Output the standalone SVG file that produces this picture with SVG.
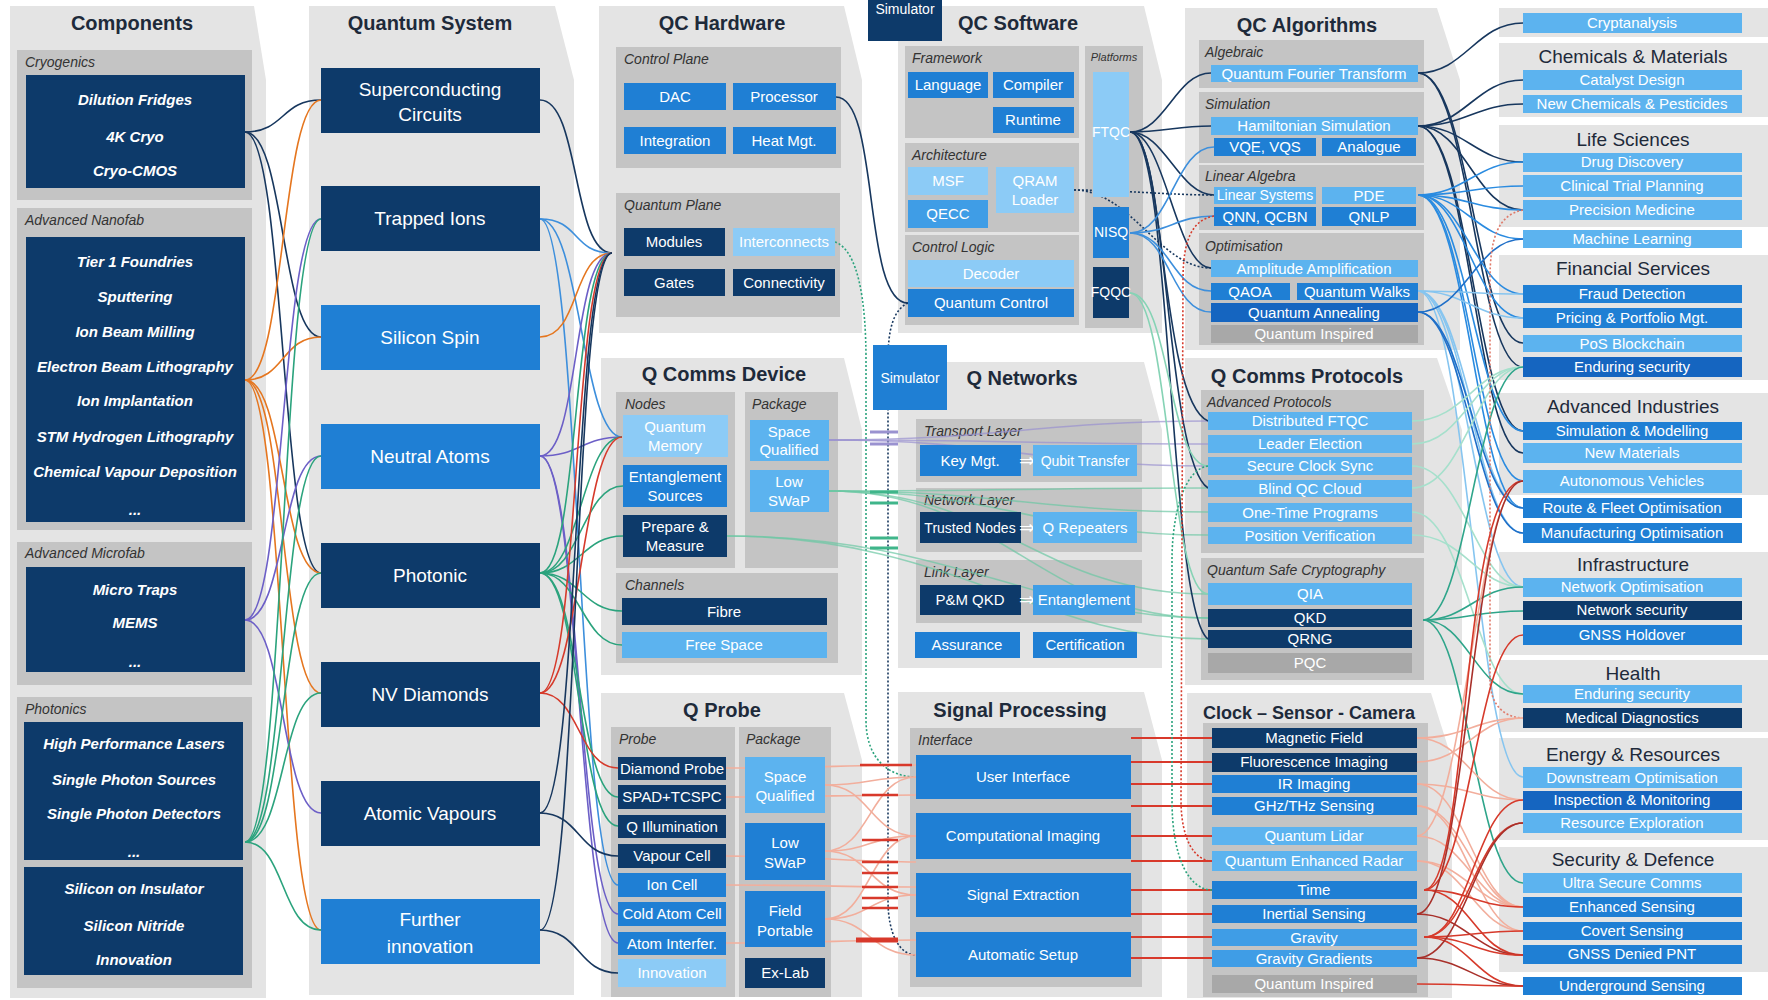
<svg xmlns="http://www.w3.org/2000/svg" width="1768" height="1000" viewBox="0 0 1768 1000">
<style>
text{font-family:"Liberation Sans Narrow","Liberation Sans",Arial,sans-serif}
.pn{fill:#e4e4e4}
.sec{fill:#c4c4c4}
.dk{fill:#0d3a6a}
.md{fill:#1f7fd4}
.m2{fill:#1565c0}
.lt{fill:#5cb3ef}
.xl{fill:#8ccbf6}
.ml{fill:#3f9de6}
.gr{fill:#a8a8a8}
.h{font-size:20px;font-weight:bold;fill:#1e2a3a;text-anchor:middle}
.g{font-size:19px;fill:#1e2a3a;text-anchor:middle}
.s{font-size:14px;font-style:italic;fill:#333}
.w{font-size:15px;fill:#fff;text-anchor:middle}
.ws{font-size:14px;fill:#fff;text-anchor:middle}
.ci{font-size:15px;font-style:italic;font-weight:bold;fill:#fff;text-anchor:middle}
.qs{font-size:19px;fill:#fff;text-anchor:middle}
.ar{font-size:19px;fill:#fff;text-anchor:middle;font-family:"DejaVu Sans",sans-serif}
.c{fill:none;stroke-width:1.6}
.k{stroke:#17375e}
.o{stroke:#e5761f}
.p{stroke:#6c5fc7}
.gn{stroke:#2ba37d}
.b{stroke:#3d8fdc}
.r{stroke:#d63a2b}
.lb{stroke:#86c5f0}
.tl{stroke:#2ea58a}
.ft{stroke:#a6e0cc}
.sa{stroke:#f2ae9c}
.dr{stroke:#a8302a}
.dot{stroke-dasharray:2 2}
</style>

<g id="panels">
<path class="pn" d="M10,6 H254 L266,80 V998 H10 Z"/>
<path class="pn" d="M309,6 H555 L574,80 V995 H309 Z"/>
<path class="pn" d="M599,6 H844 L862,80 V333 H599 Z"/>
<path class="pn" d="M898,6 H1144 L1162,80 V333 H898 Z"/>
<path class="pn" d="M1185,8 H1437 L1460,80 V350 H1185 Z"/>
<path class="pn" d="M601,358 H844 L862,430 V675 H601 Z"/>
<path class="pn" d="M898,362 H1144 L1162,430 V668 H898 Z"/>
<path class="pn" d="M1185,358 H1437 L1462,430 V685 H1185 Z"/>
<path class="pn" d="M601,693 H844 L862,760 V997 H601 Z"/>
<path class="pn" d="M898,692 H1144 L1162,760 V997 H898 Z"/>
<path class="pn" d="M1187,693 H1431 L1452,760 V998 H1187 Z"/>
<rect class="pn" x="1499" y="8" width="269" height="29"/>
<rect class="pn" x="1499" y="43" width="269" height="74"/>
<rect class="pn" x="1499" y="125" width="269" height="102"/>
<rect class="pn" x="1499" y="255" width="269" height="125"/>
<rect class="pn" x="1499" y="393" width="269" height="102"/>
<rect class="pn" x="1499" y="552" width="269" height="103"/>
<rect class="pn" x="1499" y="660" width="269" height="72"/>
<rect class="pn" x="1499" y="738" width="269" height="102"/>
<rect class="pn" x="1499" y="847" width="269" height="125"/>
<text class="h" x="132" y="30">Components</text>
<text class="h" x="430" y="30">Quantum System</text>
<text class="h" x="722" y="30">QC Hardware</text>
<text class="h" x="1018" y="30">QC Software</text>
<text class="h" x="1307" y="32">QC Algorithms</text>
<text class="h" x="724" y="381">Q Comms Device</text>
<text class="h" x="1022" y="385">Q Networks</text>
<text class="h" x="1307" y="383">Q Comms Protocols</text>
<text class="h" x="722" y="717">Q Probe</text>
<text class="h" x="1020" y="717">Signal Processing</text>
<text class="h" x="1309" y="719" style="font-size:18px">Clock – Sensor - Camera</text>
<text class="g" x="1633" y="63">Chemicals &amp; Materials</text>
<text class="g" x="1633" y="146">Life Sciences</text>
<text class="g" x="1633" y="275">Financial Services</text>
<text class="g" x="1633" y="413">Advanced Industries</text>
<text class="g" x="1633" y="571">Infrastructure</text>
<text class="g" x="1633" y="680">Health</text>
<text class="g" x="1633" y="761">Energy &amp; Resources</text>
<text class="g" x="1633" y="866">Security &amp; Defence</text>
<rect class="sec" x="17" y="50" width="235" height="150"/><text class="s" x="25" y="67">Cryogenics</text>
<rect class="sec" x="17" y="208" width="235" height="322"/><text class="s" x="25" y="225">Advanced Nanofab</text>
<rect class="sec" x="17" y="542" width="235" height="143"/><text class="s" x="25" y="558">Advanced Microfab</text>
<rect class="sec" x="17" y="697" width="235" height="291"/><text class="s" x="25" y="714">Photonics</text>
<rect class="sec" x="616" y="47" width="225" height="121"/><text class="s" x="624" y="64">Control Plane</text>
<rect class="sec" x="616" y="193" width="224" height="124"/><text class="s" x="624" y="210">Quantum Plane</text>
<rect class="sec" x="905" y="46" width="174" height="92"/><text class="s" x="912" y="63">Framework</text>
<rect class="sec" x="905" y="143" width="174" height="89"/><text class="s" x="912" y="160">Architecture</text>
<rect class="sec" x="905" y="235" width="174" height="90"/><text class="s" x="912" y="252">Control Logic</text>
<rect class="sec" x="1085" y="46" width="58" height="282"/><text class="s" x="1114" y="61" style="font-size:11px;text-anchor:middle">Platforms</text>
<rect class="sec" x="1199" y="40" width="225" height="48"/><text class="s" x="1205" y="57">Algebraic</text>
<rect class="sec" x="1199" y="92" width="225" height="71"/><text class="s" x="1205" y="109">Simulation</text>
<rect class="sec" x="1199" y="165" width="225" height="65"/><text class="s" x="1205" y="181">Linear Algebra</text>
<rect class="sec" x="1199" y="233" width="225" height="112"/><text class="s" x="1205" y="251">Optimisation</text>
<rect class="sec" x="616" y="392" width="119" height="176"/><text class="s" x="625" y="409">Nodes</text>
<rect class="sec" x="745" y="392" width="93" height="176"/><text class="s" x="752" y="409">Package</text>
<rect class="sec" x="616" y="573" width="222" height="90"/><text class="s" x="625" y="590">Channels</text>
<rect class="sec" x="916" y="419" width="226" height="63"/><text class="s" x="924" y="436">Transport Layer</text>
<rect class="sec" x="916" y="488" width="226" height="64"/><text class="s" x="924" y="505">Network Layer</text>
<rect class="sec" x="916" y="560" width="226" height="63"/><text class="s" x="924" y="577">Link Layer</text>
<rect class="sec" x="1201" y="390" width="223" height="163"/><text class="s" x="1207" y="407">Advanced Protocols</text>
<rect class="sec" x="1201" y="558" width="223" height="122"/><text class="s" x="1207" y="575">Quantum Safe Cryptography</text>
<rect class="sec" x="611" y="727" width="124" height="270"/><text class="s" x="619" y="744">Probe</text>
<rect class="sec" x="739" y="727" width="92" height="270"/><text class="s" x="746" y="744">Package</text>
<rect class="sec" x="910" y="728" width="232" height="259"/><text class="s" x="918" y="745">Interface</text>
<rect class="sec" x="1203" y="723" width="225" height="274"/>
</g>

<g id="connectors">
<path class="c k" d="M245,132 C285,132 281,100 321,100"/>
<path class="c k" d="M245,132 C285,132 281,337 321,337"/>
<path class="c k" d="M245,132 C285,132 281,573 321,573"/>
<path class="c o" d="M245,380 C285,380 281,100 321,100"/>
<path class="c o" d="M245,380 C285,380 281,337 321,337"/>
<path class="c o" d="M245,380 C285,380 281,573 321,573"/>
<path class="c o" d="M245,380 C285,380 281,693 321,693"/>
<path class="c o" d="M245,380 C285,380 281,930 321,930"/>
<path class="c p" d="M245,620 C285,620 281,219 321,219"/>
<path class="c p" d="M245,620 C285,620 281,456 321,456"/>
<path class="c p" d="M245,620 C285,620 281,813 321,813"/>
<path class="c gn" d="M245,842 C285,842 281,219 321,219"/>
<path class="c gn" d="M245,842 C285,842 281,456 321,456"/>
<path class="c gn" d="M245,842 C285,842 281,573 321,573"/>
<path class="c gn" d="M245,842 C285,842 281,693 321,693"/>
<path class="c gn" d="M245,842 C285,842 281,930 321,930"/>

<path class="c k" d="M540,100 C580,100 572,253 612,253"/>
<path class="c b" d="M540,219 C580,219 572,253 612,253"/>
<path class="c b" d="M540,219 C580,219 582,437 622,437"/>
<path class="c b" d="M540,219 C580,219 578,885 618,885"/>
<path class="c o" d="M540,337 C580,337 572,253 612,253"/>
<path class="c p" d="M540,456 C580,456 572,253 612,253"/>
<path class="c p" d="M540,456 C580,456 582,437 622,437"/>
<path class="c p" d="M540,456 C580,456 578,914 618,914"/>
<path class="c p" d="M540,456 C580,456 578,943 618,943"/>
<path class="c gn" d="M540,573 C580,573 572,253 612,253"/>
<path class="c gn" d="M540,573 C580,573 582,437 622,437"/>
<path class="c gn" d="M540,573 C580,573 583,486 623,486"/>
<path class="c gn" d="M540,573 C580,573 583,536 623,536"/>
<path class="c gn" d="M540,573 C580,573 582,611 622,611"/>
<path class="c gn" d="M540,573 C580,573 582,645 622,645"/>
<path class="c gn" d="M540,573 C580,573 578,797 618,797"/>
<path class="c gn" d="M540,573 C580,573 578,826 618,826"/>
<path class="c r" d="M540,693 C580,693 572,253 612,253"/>
<path class="c r" d="M540,693 C580,693 582,437 622,437"/>
<path class="c r" d="M540,693 C580,693 578,768 618,768"/>
<path class="c k" d="M540,813 C580,813 572,253 612,253"/>
<path class="c k" d="M540,813 C580,813 578,856 618,856"/>
<path class="c k" d="M540,930 C580,930 572,253 612,253"/>
<path class="c k" d="M540,930 C580,930 578,973 618,973"/>

<path class="c k" d="M836,97 C880,97 862,303 908,303"/>
<path class="c k dot" d="M908,303 C893,310 888,330 888,360 L888,900 C888,935 900,955 916,955"/>
<path class="c gn dot" d="M835,242 C858,250 866,300 866,360 L866,720 C866,760 890,777 916,777"/>

<path class="c" stroke="#9a92d0" opacity="0.7" d="M829,440 C1000,440 1040,421 1208,421"/>
<path class="c" stroke="#9a92d0" opacity="0.7" d="M829,440 C1000,440 1040,444 1208,444"/>
<path class="c" stroke="#9a92d0" opacity="0.7" d="M829,440 C1000,440 1040,466 1208,466"/>
<path class="c" stroke="#6cc7a4" opacity="0.7" d="M829,491 C1000,491 1040,488 1208,488"/>
<path class="c" stroke="#6cc7a4" opacity="0.7" d="M829,491 C1000,491 1040,512 1208,512"/>
<path class="c" stroke="#6cc7a4" opacity="0.7" d="M829,491 C1000,491 1040,535 1208,535"/>
<path class="c" stroke="#6cc7a4" opacity="0.7" d="M829,491 C1000,491 1040,594 1208,594"/>
<path class="c" stroke="#6cc7a4" opacity="0.7" d="M829,491 C1000,491 1040,618 1208,618"/>
<path class="c" stroke="#6cc7a4" opacity="0.7" d="M727,536 C950,536 1040,639 1208,639"/>
<path class="c" stroke="#6cc7a4" opacity="0.7" d="M727,536 C950,536 1040,618 1208,618"/>
<path stroke="#9a92d0" stroke-width="3" d="M870,432 H898 M870,444 H898"/>
<path stroke="#3fb58a" stroke-width="3" d="M870,492 H898 M870,503 H898 M870,538 H898 M870,548 H898"/>

<path class="c sa" d="M825,785 C870,785 870,777 916,777"/>
<path class="c sa" d="M825,785 C870,785 870,836 916,836"/>
<path class="c sa" d="M825,851 C870,851 870,777 916,777"/>
<path class="c sa" d="M825,851 C870,851 870,836 916,836"/>
<path class="c sa" d="M825,851 C870,851 870,895 916,895"/>
<path class="c sa" d="M825,919 C870,919 870,836 916,836"/>
<path class="c sa" d="M825,919 C870,919 870,895 916,895"/>
<path class="c sa" d="M825,919 C870,919 870,955 916,955"/>
<path class="c sa" d="M726,768 C800,768 860,765 916,765"/>
<path class="c sa" d="M726,797 C800,797 860,795 916,795"/>
<path class="c sa" d="M726,856 C800,856 860,862 916,862"/>
<path class="c sa" d="M726,885 C800,885 860,887 916,887"/>
<path class="c sa" d="M726,943 C800,943 860,940 916,940"/>
<path stroke="#d8392b" stroke-width="2.5" d="M860,765 H912 M862,795 H898 M862,840 H898 M862,862 H898 M862,873 H898 M862,887 H898 M862,898 H898 M862,908 H898"/>
<path stroke="#d8392b" stroke-width="5" d="M856,940 H898"/>
<path stroke="#d8392b" stroke-width="2.2" d="M1131,738 H1212 M1131,762 H1212 M1131,784 H1212 M1131,806 H1212 M1131,836 H1212 M1131,861 H1212 M1131,890 H1212 M1131,914 H1212 M1131,937 H1212 M1131,958 H1212"/>

<path class="c k" d="M1130,132 C1165,132 1176,73 1211,73"/>
<path class="c k" d="M1130,132 C1165,132 1176,126 1211,126"/>
<path class="c k" d="M1130,132 C1165,132 1179,195 1214,195"/>
<path class="c k" d="M1130,132 C1165,132 1176,268 1211,268"/>
<path class="c k" d="M1130,132 C1165,132 1160,400 1208,421"/>
<path class="c k" d="M1130,132 C1168,132 1165,460 1208,488"/>
<path class="c k" d="M1130,132 C1172,132 1168,610 1208,639"/>
<path class="c k dot" d="M1074,190 C1120,190 1170,195 1214,195"/>
<path class="c k dot" d="M1074,190 C1130,190 1160,268 1211,268"/>
<path class="c b" d="M1130,233 C1170,233 1175,147 1214,147"/>
<path class="c b" d="M1130,233 C1170,233 1175,216 1214,216"/>
<path class="c b" d="M1130,233 C1170,233 1171,291 1211,291"/>
<path class="c b" d="M1130,233 C1170,233 1171,312 1211,312"/>
<path class="c" stroke="#86d3b5" d="M1130,293 C1170,293 1168,466 1208,466"/>
<path class="c" stroke="#86d3b5" d="M1130,293 C1170,293 1168,594 1208,594"/>
<path class="c gn dot" d="M1208,466 C1182,470 1172,520 1172,560 L1172,800 C1172,860 1190,890 1212,890"/>
<path class="c r dot" d="M1214,216 C1192,220 1183,240 1183,280 L1181,800 C1181,840 1195,861 1212,861"/>

<path class="c k" d="M1418,73 C1465,73 1476,23 1523,23"/>
<path class="c k" d="M1418,73 C1470,73 1476,343 1523,343"/>
<path class="c k" d="M1418,73 C1470,73 1476,367 1523,367"/>
<path class="c k" d="M1418,126 C1465,126 1476,80 1523,80"/>
<path class="c k" d="M1418,126 C1465,126 1476,104 1523,104"/>
<path class="c k" d="M1418,126 C1465,126 1476,162 1523,162"/>
<path class="c k" d="M1418,126 C1465,126 1476,210 1523,210"/>
<path class="c k" d="M1418,126 C1470,126 1476,431 1523,431"/>
<path class="c k" d="M1418,126 C1470,126 1476,453 1523,453"/>
<path class="c" stroke="#2a8be0" d="M1418,195 C1465,195 1476,162 1523,162"/>
<path class="c" stroke="#2a8be0" d="M1418,195 C1465,195 1476,186 1523,186"/>
<path class="c" stroke="#2a8be0" d="M1418,195 C1465,195 1476,210 1523,210"/>
<path class="c" stroke="#2a8be0" d="M1418,195 C1465,195 1476,239 1523,239"/>
<path class="c" stroke="#2a8be0" d="M1418,195 C1465,195 1476,294 1523,294"/>
<path class="c" stroke="#2a8be0" d="M1418,195 C1465,195 1476,318 1523,318"/>
<path class="c" stroke="#2a8be0" d="M1418,195 C1468,195 1476,431 1523,431"/>
<path class="c" stroke="#2a8be0" d="M1418,195 C1468,195 1476,481 1523,481"/>
<path class="c" stroke="#2a8be0" d="M1418,195 C1468,195 1476,508 1523,508"/>
<path class="c lb" d="M1418,291 C1465,291 1476,294 1523,294"/>
<path class="c lb" d="M1418,291 C1465,291 1476,318 1523,318"/>
<path class="c lb" d="M1418,291 C1465,291 1476,508 1523,508"/>
<path class="c lb" d="M1418,291 C1465,291 1476,533 1523,533"/>
<path class="c lb" d="M1418,291 C1465,291 1476,587 1523,587"/>
<path class="c lb" d="M1418,291 C1468,291 1476,777 1523,777"/>
<path class="c" stroke="#1f6fc8" d="M1418,312 C1465,312 1476,239 1523,239"/>
<path class="c" stroke="#1f6fc8" d="M1418,312 C1465,312 1476,508 1523,508"/>
<path class="c" stroke="#1f6fc8" d="M1418,312 C1465,312 1476,533 1523,533"/>
<path class="c ft" d="M1412,421 C1465,421 1476,367 1523,367"/>
<path class="c ft" d="M1412,444 C1465,444 1476,367 1523,367"/>
<path class="c ft" d="M1412,466 C1465,466 1476,587 1523,587"/>
<path class="c ft" d="M1412,488 C1465,488 1476,367 1523,367"/>
<path class="c ft" d="M1412,512 C1465,512 1476,694 1523,694"/>
<path class="c ft" d="M1412,535 C1465,535 1476,587 1523,587"/>
<path class="c tl" d="M1423,620 C1468,620 1476,367 1523,367"/>
<path class="c tl" d="M1423,620 C1468,620 1476,587 1523,587"/>
<path class="c tl" d="M1423,620 C1468,620 1476,611 1523,611"/>
<path class="c tl" d="M1423,620 C1468,620 1476,694 1523,694"/>
<path class="c tl" d="M1423,620 C1468,620 1476,883 1523,883"/>
<path class="c dot" stroke="#e07a6a" d="M1523,210 C1497,215 1490,240 1490,280 L1490,680 C1490,705 1505,718 1523,718"/>
<path class="c sa" d="M1417,738 C1465,738 1476,718 1523,718"/>
<path class="c sa" d="M1417,738 C1465,738 1476,800 1523,800"/>
<path class="c sa" d="M1417,762 C1465,762 1476,718 1523,718"/>
<path class="c sa" d="M1417,784 C1465,784 1476,800 1523,800"/>
<path class="c sa" d="M1417,784 C1465,784 1476,907 1523,907"/>
<path class="c sa" d="M1417,806 C1465,806 1476,907 1523,907"/>
<path class="c sa" d="M1417,806 C1465,806 1476,931 1523,931"/>
<path class="c sa" d="M1417,836 C1465,836 1476,481 1523,481"/>
<path class="c sa" d="M1417,836 C1465,836 1476,907 1523,907"/>
<path class="c sa" d="M1417,861 C1465,861 1476,907 1523,907"/>
<path class="c sa" d="M1417,861 C1465,861 1476,931 1523,931"/>
<path class="c r" stroke-width="2.2" d="M1424,890 C1470,890 1460,481 1523,481"/>
<path class="c r" d="M1424,890 C1470,890 1476,635 1523,635"/>
<path class="c r" d="M1424,890 C1470,890 1476,907 1523,907"/>
<path class="c r" d="M1424,890 C1470,890 1476,955 1523,955"/>
<path class="c dr" d="M1417,914 C1465,914 1476,955 1523,955"/>
<path class="c dr" d="M1417,914 C1468,914 1470,481 1523,481"/>
<path class="c r" d="M1424,937 C1470,937 1476,800 1523,800"/>
<path class="c r" d="M1424,937 C1470,937 1476,823 1523,823"/>
<path class="c r" d="M1424,937 C1470,937 1476,931 1523,931"/>
<path class="c r" d="M1424,937 C1470,937 1476,955 1523,955"/>
<path class="c r" d="M1424,937 C1470,937 1476,986 1523,986"/>
<path class="c dr" d="M1417,958 C1465,958 1476,986 1523,986"/>
<path class="c dr" d="M1417,958 C1465,958 1476,823 1523,823"/>
<path class="c r" d="M1417,984 C1465,984 1476,986 1523,986"/>
</g>

<g id="nodes">
<g id="cryogenics"><rect class="dk" x="26" y="75" width="219" height="113"/>
<text class="ci" x="135" y="105">Dilution Fridges</text><text class="ci" x="135" y="142">4K Cryo</text><text class="ci" x="135" y="176">Cryo-CMOS</text></g>
<g id="nanofab"><rect class="dk" x="26" y="237" width="219" height="285"/>
<text class="ci" x="135" y="267">Tier 1 Foundries</text><text class="ci" x="135" y="302">Sputtering</text><text class="ci" x="135" y="337">Ion Beam Milling</text><text class="ci" x="135" y="372">Electron Beam Lithography</text><text class="ci" x="135" y="406">Ion Implantation</text><text class="ci" x="135" y="442">STM Hydrogen Lithography</text><text class="ci" x="135" y="477">Chemical Vapour Deposition</text><text class="ci" x="135" y="515">...</text></g>
<g id="microfab"><rect class="dk" x="26" y="567" width="219" height="105"/>
<text class="ci" x="135" y="595">Micro Traps</text><text class="ci" x="135" y="628">MEMS</text><text class="ci" x="135" y="667">...</text></g>
<g id="photonics1"><rect class="dk" x="24" y="722" width="219" height="138"/>
<text class="ci" x="134" y="749">High Performance Lasers</text><text class="ci" x="134" y="785">Single Photon Sources</text><text class="ci" x="134" y="819">Single Photon Detectors</text><text class="ci" x="134" y="857">...</text></g>
<g id="photonics2"><rect class="dk" x="24" y="867" width="219" height="108"/>
<text class="ci" x="134" y="894">Silicon on Insulator</text><text class="ci" x="134" y="931">Silicon Nitride</text><text class="ci" x="134" y="965">Innovation</text></g>

<g id="superconducting"><rect class="dk" x="321" y="68" width="219" height="65"/><text class="qs" x="430" y="96">Superconducting</text><text class="qs" x="430" y="121">Circuits</text></g>
<g id="trapped-ions"><rect class="dk" x="321" y="186" width="219" height="65"/><text class="qs" x="430" y="225">Trapped Ions</text></g>
<g id="silicon-spin"><rect class="md" x="321" y="305" width="219" height="65"/><text class="qs" x="430" y="344">Silicon Spin</text></g>
<g id="neutral-atoms"><rect class="md" x="321" y="424" width="219" height="65"/><text class="qs" x="430" y="463">Neutral Atoms</text></g>
<g id="photonic"><rect class="dk" x="321" y="543" width="219" height="65"/><text class="qs" x="430" y="582">Photonic</text></g>
<g id="nv-diamonds"><rect class="dk" x="321" y="662" width="219" height="65"/><text class="qs" x="430" y="701">NV Diamonds</text></g>
<g id="atomic-vapours"><rect class="dk" x="321" y="781" width="219" height="65"/><text class="qs" x="430" y="820">Atomic Vapours</text></g>
<g id="further-innovation"><rect class="md" x="321" y="899" width="219" height="65"/><text class="qs" x="430" y="926">Further</text><text class="qs" x="430" y="953">innovation</text></g>

<g id="dac"><rect class="md" x="624" y="83" width="102" height="27"/><text class="w" x="675" y="102">DAC</text></g>
<g id="processor"><rect class="md" x="733" y="83" width="103" height="27"/><text class="w" x="784" y="102">Processor</text></g>
<g id="integration"><rect class="md" x="624" y="127" width="102" height="27"/><text class="w" x="675" y="146">Integration</text></g>
<g id="heat-mgt"><rect class="md" x="733" y="127" width="103" height="27"/><text class="w" x="784" y="146">Heat Mgt.</text></g>
<g id="modules"><rect class="dk" x="624" y="228" width="101" height="28"/><text class="w" x="674" y="247">Modules</text></g>
<g id="interconnects"><rect class="xl" x="733" y="228" width="102" height="28"/><text class="w" x="784" y="247">Interconnects</text></g>
<g id="gates"><rect class="dk" x="624" y="269" width="101" height="27"/><text class="w" x="674" y="288">Gates</text></g>
<g id="connectivity"><rect class="dk" x="733" y="269" width="102" height="27"/><text class="w" x="784" y="288">Connectivity</text></g>

<g id="simulator-top"><rect class="dk" x="868" y="0" width="74" height="41"/><text class="ws" x="905" y="14">Simulator</text></g>
<g id="language"><rect class="md" x="908" y="72" width="80" height="26"/><text class="w" x="948" y="90">Language</text></g>
<g id="compiler"><rect class="md" x="993" y="72" width="81" height="26"/><text class="w" x="1033" y="90">Compiler</text></g>
<g id="runtime"><rect class="md" x="993" y="107" width="81" height="26"/><text class="w" x="1033" y="125">Runtime</text></g>
<g id="msf"><rect class="xl" x="908" y="167" width="80" height="28"/><text class="w" x="948" y="186">MSF</text></g>
<g id="qecc"><rect class="ml" x="908" y="200" width="80" height="28"/><text class="w" x="948" y="219">QECC</text></g>
<g id="qram"><rect class="xl" x="996" y="167" width="78" height="46"/><text class="w" x="1035" y="186">QRAM</text><text class="w" x="1035" y="205">Loader</text></g>
<g id="decoder"><rect class="xl" x="908" y="260" width="166" height="27"/><text class="w" x="991" y="279">Decoder</text></g>
<g id="quantum-control"><rect class="md" x="908" y="289" width="166" height="28"/><text class="w" x="991" y="308">Quantum Control</text></g>
<g id="ftqc"><rect class="xl" x="1093" y="72" width="36" height="125"/><text class="ws" x="1111" y="137">FTQC</text></g>
<g id="nisq"><rect class="md" x="1093" y="207" width="36" height="51"/><text class="ws" x="1111" y="237">NISQ</text></g>
<g id="fqqc"><rect class="dk" x="1093" y="267" width="36" height="51"/><text class="ws" x="1111" y="297">FQQC</text></g>

<g id="qft"><rect class="lt" x="1211" y="65" width="207" height="17"/><text class="w" x="1314" y="79">Quantum Fourier Transform</text></g>
<g id="hamiltonian"><rect class="lt" x="1211" y="117" width="207" height="18"/><text class="w" x="1314" y="131">Hamiltonian Simulation</text></g>
<g id="vqe"><rect class="md" x="1214" y="138" width="102" height="18"/><text class="w" x="1265" y="152">VQE, VQS</text></g>
<g id="analogue"><rect class="md" x="1322" y="138" width="94" height="18"/><text class="w" x="1369" y="152">Analogue</text></g>
<g id="linear-systems"><rect class="lt" x="1214" y="187" width="102" height="17"/><text class="ws" x="1265" y="200">Linear Systems</text></g>
<g id="pde"><rect class="lt" x="1322" y="187" width="94" height="17"/><text class="w" x="1369" y="201">PDE</text></g>
<g id="qnn"><rect class="md" x="1214" y="207" width="102" height="19"/><text class="w" x="1265" y="222">QNN, QCBN</text></g>
<g id="qnlp"><rect class="md" x="1322" y="207" width="94" height="19"/><text class="w" x="1369" y="222">QNLP</text></g>
<g id="amplitude"><rect class="lt" x="1211" y="260" width="207" height="17"/><text class="w" x="1314" y="274">Amplitude Amplification</text></g>
<g id="qaoa"><rect class="md" x="1211" y="283" width="79" height="17"/><text class="w" x="1250" y="297">QAOA</text></g>
<g id="quantum-walks"><rect class="md" x="1297" y="283" width="121" height="17"/><text class="w" x="1357" y="297">Quantum Walks</text></g>
<g id="quantum-annealing"><rect class="m2" x="1211" y="303" width="207" height="19"/><text class="w" x="1314" y="318">Quantum Annealing</text></g>
<g id="quantum-inspired-alg"><rect class="gr" x="1211" y="325" width="207" height="18"/><text class="w" x="1314" y="339">Quantum Inspired</text></g>

<g id="quantum-memory"><rect class="xl" x="623" y="415" width="105" height="42"/><text class="w" x="675" y="432">Quantum</text><text class="w" x="675" y="451">Memory</text></g>
<g id="entanglement-sources"><rect class="md" x="623" y="465" width="104" height="42"/><text class="w" x="675" y="482">Entanglement</text><text class="w" x="675" y="501">Sources</text></g>
<g id="prepare-measure"><rect class="dk" x="623" y="515" width="104" height="42"/><text class="w" x="675" y="532">Prepare &amp;</text><text class="w" x="675" y="551">Measure</text></g>
<g id="space-qualified-qc"><rect class="lt" x="750" y="420" width="79" height="41"/><text class="w" x="789" y="437">Space</text><text class="w" x="789" y="455">Qualified</text></g>
<g id="low-swap-qc"><rect class="lt" x="750" y="470" width="79" height="42"/><text class="w" x="789" y="487">Low</text><text class="w" x="789" y="506">SWaP</text></g>
<g id="fibre"><rect class="dk" x="622" y="598" width="205" height="27"/><text class="w" x="724" y="617">Fibre</text></g>
<g id="free-space"><rect class="lt" x="622" y="632" width="205" height="26"/><text class="w" x="724" y="650">Free Space</text></g>

<g id="simulator-net"><rect class="md" x="873" y="345" width="74" height="65"/><text class="ws" x="910" y="383">Simulator</text></g>
<g id="key-mgt"><rect class="md" x="920" y="445" width="101" height="31"/><text class="w" x="970" y="466">Key Mgt.</text></g>
<text class="ar" x="1027" y="467">⇒</text>
<g id="qubit-transfer"><rect class="lt" x="1033" y="445" width="104" height="31"/><text class="ws" x="1085" y="466">Qubit Transfer</text></g>
<g id="trusted-nodes"><rect class="dk" x="920" y="512" width="101" height="31"/><text class="ws" x="970" y="533">Trusted Nodes</text></g>
<text class="ar" x="1027" y="534">⇒</text>
<g id="q-repeaters"><rect class="lt" x="1033" y="512" width="104" height="31"/><text class="w" x="1085" y="533">Q Repeaters</text></g>
<g id="pm-qkd"><rect class="dk" x="920" y="585" width="101" height="30"/><text class="w" x="970" y="605">P&amp;M QKD</text></g>
<text class="ar" x="1027" y="606">⇒</text>
<g id="entanglement"><rect class="ml" x="1033" y="585" width="102" height="30"/><text class="w" x="1084" y="605">Entanglement</text></g>
<g id="assurance"><rect class="md" x="915" y="632" width="105" height="26"/><text class="w" x="967" y="650">Assurance</text></g>
<g id="certification"><rect class="md" x="1033" y="632" width="104" height="26"/><text class="w" x="1085" y="650">Certification</text></g>

<g id="distributed-ftqc"><rect class="lt" x="1208" y="412" width="204" height="18"/><text class="w" x="1310" y="426">Distributed FTQC</text></g>
<g id="leader-election"><rect class="lt" x="1208" y="435" width="204" height="18"/><text class="w" x="1310" y="449">Leader Election</text></g>
<g id="secure-clock-sync"><rect class="lt" x="1208" y="457" width="204" height="18"/><text class="w" x="1310" y="471">Secure Clock Sync</text></g>
<g id="blind-qc-cloud"><rect class="lt" x="1208" y="480" width="204" height="17"/><text class="w" x="1310" y="494">Blind QC Cloud</text></g>
<g id="one-time-programs"><rect class="lt" x="1208" y="503" width="204" height="19"/><text class="w" x="1310" y="518">One-Time Programs</text></g>
<g id="position-verification"><rect class="lt" x="1208" y="527" width="204" height="17"/><text class="w" x="1310" y="541">Position Verification</text></g>
<g id="qia"><rect class="lt" x="1208" y="583" width="204" height="22"/><text class="w" x="1310" y="599">QIA</text></g>
<g id="qkd"><rect class="dk" x="1208" y="609" width="204" height="18"/><text class="w" x="1310" y="623">QKD</text></g>
<g id="qrng"><rect class="dk" x="1208" y="630" width="204" height="18"/><text class="w" x="1310" y="644">QRNG</text></g>
<g id="pqc"><rect class="gr" x="1208" y="653" width="204" height="20"/><text class="w" x="1310" y="668">PQC</text></g>

<g id="diamond-probe"><rect class="dk" x="618" y="757" width="108" height="23"/><text class="w" x="672" y="774">Diamond Probe</text></g>
<g id="spad"><rect class="dk" x="618" y="785" width="108" height="24"/><text class="w" x="672" y="802">SPAD+TCSPC</text></g>
<g id="q-illumination"><rect class="dk" x="618" y="815" width="108" height="23"/><text class="w" x="672" y="832">Q Illumination</text></g>
<g id="vapour-cell"><rect class="dk" x="618" y="844" width="108" height="24"/><text class="w" x="672" y="861">Vapour Cell</text></g>
<g id="ion-cell"><rect class="md" x="618" y="873" width="108" height="24"/><text class="w" x="672" y="890">Ion Cell</text></g>
<g id="cold-atom-cell"><rect class="md" x="618" y="902" width="108" height="24"/><text class="w" x="672" y="919">Cold Atom Cell</text></g>
<g id="atom-interfer"><rect class="md" x="618" y="932" width="108" height="23"/><text class="w" x="672" y="949">Atom Interfer.</text></g>
<g id="innovation-probe"><rect class="xl" x="618" y="959" width="108" height="28"/><text class="w" x="672" y="978">Innovation</text></g>
<g id="space-qualified-probe"><rect class="lt" x="745" y="757" width="80" height="56"/><text class="w" x="785" y="782">Space</text><text class="w" x="785" y="801">Qualified</text></g>
<g id="low-swap-probe"><rect class="md" x="745" y="823" width="80" height="57"/><text class="w" x="785" y="848">Low</text><text class="w" x="785" y="868">SWaP</text></g>
<g id="field-portable"><rect class="md" x="745" y="891" width="80" height="56"/><text class="w" x="785" y="916">Field</text><text class="w" x="785" y="936">Portable</text></g>
<g id="ex-lab"><rect class="dk" x="745" y="958" width="80" height="30"/><text class="w" x="785" y="978">Ex-Lab</text></g>

<g id="user-interface"><rect class="md" x="916" y="755" width="215" height="44"/><text class="w" x="1023" y="782">User Interface</text></g>
<g id="computational-imaging"><rect class="md" x="916" y="813" width="215" height="46"/><text class="w" x="1023" y="841">Computational Imaging</text></g>
<g id="signal-extraction"><rect class="md" x="916" y="873" width="215" height="44"/><text class="w" x="1023" y="900">Signal Extraction</text></g>
<g id="automatic-setup"><rect class="md" x="916" y="932" width="215" height="45"/><text class="w" x="1023" y="960">Automatic Setup</text></g>

<g id="magnetic-field"><rect class="dk" x="1212" y="728" width="205" height="20"/><text class="w" x="1314" y="743">Magnetic Field</text></g>
<g id="fluorescence-imaging"><rect class="dk" x="1212" y="753" width="205" height="19"/><text class="w" x="1314" y="767">Fluorescence Imaging</text></g>
<g id="ir-imaging"><rect class="md" x="1212" y="775" width="205" height="18"/><text class="w" x="1314" y="789">IR Imaging</text></g>
<g id="ghz-thz"><rect class="md" x="1212" y="797" width="205" height="18"/><text class="w" x="1314" y="811">GHz/THz Sensing</text></g>
<g id="quantum-lidar"><rect class="lt" x="1212" y="827" width="205" height="18"/><text class="w" x="1314" y="841">Quantum Lidar</text></g>
<g id="quantum-radar"><rect class="lt" x="1212" y="851" width="205" height="20"/><text class="w" x="1314" y="866">Quantum Enhanced Radar</text></g>
<g id="time"><rect class="md" x="1212" y="881" width="205" height="18"/><text class="w" x="1314" y="895">Time</text></g>
<g id="inertial-sensing"><rect class="md" x="1212" y="905" width="205" height="18"/><text class="w" x="1314" y="919">Inertial Sensing</text></g>
<g id="gravity"><rect class="ml" x="1212" y="929" width="205" height="17"/><text class="w" x="1314" y="943">Gravity</text></g>
<g id="gravity-gradients"><rect class="ml" x="1212" y="950" width="205" height="17"/><text class="w" x="1314" y="964">Gravity Gradients</text></g>
<g id="quantum-inspired-sensor"><rect class="gr" x="1212" y="975" width="205" height="18"/><text class="w" x="1314" y="989">Quantum Inspired</text></g>

<g id="cryptanalysis"><rect class="lt" x="1523" y="13" width="219" height="20"/><text class="w" x="1632" y="28">Cryptanalysis</text></g>
<g id="catalyst-design"><rect class="lt" x="1523" y="70" width="219" height="20"/><text class="w" x="1632" y="85">Catalyst Design</text></g>
<g id="new-chemicals"><rect class="lt" x="1523" y="95" width="219" height="18"/><text class="w" x="1632" y="109">New Chemicals &amp; Pesticides</text></g>
<g id="drug-discovery"><rect class="lt" x="1523" y="153" width="219" height="19"/><text class="w" x="1632" y="167">Drug Discovery</text></g>
<g id="clinical-trial"><rect class="lt" x="1523" y="175" width="219" height="22"/><text class="w" x="1632" y="191">Clinical Trial Planning</text></g>
<g id="precision-medicine"><rect class="lt" x="1523" y="200" width="219" height="20"/><text class="w" x="1632" y="215">Precision Medicine</text></g>
<g id="machine-learning"><rect class="lt" x="1523" y="230" width="219" height="18"/><text class="w" x="1632" y="244">Machine Learning</text></g>
<g id="fraud-detection"><rect class="md" x="1523" y="285" width="219" height="18"/><text class="w" x="1632" y="299">Fraud Detection</text></g>
<g id="pricing"><rect class="md" x="1523" y="308" width="219" height="20"/><text class="w" x="1632" y="323">Pricing &amp; Portfolio Mgt.</text></g>
<g id="pos-blockchain"><rect class="lt" x="1523" y="335" width="219" height="17"/><text class="w" x="1632" y="349">PoS Blockchain</text></g>
<g id="enduring-security-fin"><rect class="m2" x="1523" y="357" width="219" height="20"/><text class="w" x="1632" y="372">Enduring security</text></g>
<g id="simulation-modelling"><rect class="md" x="1523" y="422" width="219" height="18"/><text class="w" x="1632" y="436">Simulation &amp; Modelling</text></g>
<g id="new-materials"><rect class="lt" x="1523" y="443" width="219" height="20"/><text class="w" x="1632" y="458">New Materials</text></g>
<g id="autonomous-vehicles"><rect class="lt" x="1523" y="470" width="219" height="23"/><text class="w" x="1632" y="486">Autonomous Vehicles</text></g>
<g id="route-fleet"><rect class="md" x="1523" y="498" width="219" height="20"/><text class="w" x="1632" y="513">Route &amp; Fleet Optimisation</text></g>
<g id="manufacturing"><rect class="md" x="1523" y="523" width="219" height="20"/><text class="w" x="1632" y="538">Manufacturing Optimisation</text></g>
<g id="network-optimisation"><rect class="lt" x="1523" y="578" width="219" height="19"/><text class="w" x="1632" y="592">Network Optimisation</text></g>
<g id="network-security"><rect class="dk" x="1523" y="601" width="219" height="19"/><text class="w" x="1632" y="615">Network security</text></g>
<g id="gnss-holdover"><rect class="md" x="1523" y="625" width="219" height="20"/><text class="w" x="1632" y="640">GNSS Holdover</text></g>
<g id="enduring-security-health"><rect class="lt" x="1523" y="685" width="219" height="18"/><text class="w" x="1632" y="699">Enduring security</text></g>
<g id="medical-diagnostics"><rect class="dk" x="1523" y="708" width="219" height="20"/><text class="w" x="1632" y="723">Medical Diagnostics</text></g>
<g id="downstream"><rect class="lt" x="1523" y="767" width="219" height="21"/><text class="w" x="1632" y="783">Downstream Optimisation</text></g>
<g id="inspection"><rect class="m2" x="1523" y="791" width="219" height="19"/><text class="w" x="1632" y="805">Inspection &amp; Monitoring</text></g>
<g id="resource-exploration"><rect class="lt" x="1523" y="813" width="219" height="20"/><text class="w" x="1632" y="828">Resource Exploration</text></g>
<g id="ultra-secure"><rect class="lt" x="1523" y="873" width="219" height="20"/><text class="w" x="1632" y="888">Ultra Secure Comms</text></g>
<g id="enhanced-sensing"><rect class="md" x="1523" y="897" width="219" height="20"/><text class="w" x="1632" y="912">Enhanced Sensing</text></g>
<g id="covert-sensing"><rect class="md" x="1523" y="922" width="219" height="18"/><text class="w" x="1632" y="936">Covert Sensing</text></g>
<g id="gnss-denied"><rect class="md" x="1523" y="945" width="219" height="19"/><text class="w" x="1632" y="959">GNSS Denied PNT</text></g>
<g id="underground-sensing"><rect class="md" x="1523" y="977" width="219" height="18"/><text class="w" x="1632" y="991">Underground Sensing</text></g>
</g>
</svg>
